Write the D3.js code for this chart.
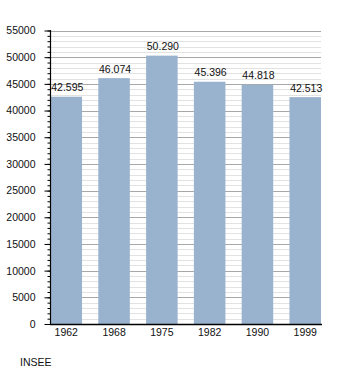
<!DOCTYPE html>
<html><head><meta charset="utf-8">
<script src="https://cdn.jsdelivr.net/npm/d3@7"></script>
<style>body{margin:0;background:#fff}svg{display:block;font-family:"Liberation Sans",Arial,sans-serif}</style>
</head><body><svg id="c" width="350" height="373"></svg>
<script>
const years = ["1962","1968","1975","1982","1990","1999"];
const population = [42595,46074,50290,45396,44818,42513];
const valueLabels = ["42.595","46.074","50.290","45.396","44.818","42.513"];
const yTicks = [0,5000,10000,15000,20000,25000,30000,35000,40000,45000,50000,55000];
const source = "INSEE";

const svg = d3.select("#c");
const x = d3.scaleBand().domain(years).range([50.5,321]).paddingInner(0.34).paddingOuter(0);
const y = d3.scaleLinear().domain([0,55000]).range([324,30.5]);
const minor = d3.range(0,55001,1000);
const FS = 10.5;

svg.append("g").selectAll("line").data(minor.filter(v=>v%5000!==0)).join("line")
  .attr("x1",50).attr("x2",321).attr("y1",d=>Math.round(y(d))+0.5).attr("y2",d=>Math.round(y(d))+0.5)
  .attr("stroke","#e2e2e2").attr("stroke-width",1);
svg.append("g").selectAll("line").data(yTicks.filter(v=>v>0)).join("line")
  .attr("x1",50).attr("x2",321).attr("y1",d=>Math.round(y(d))+0.5).attr("y2",d=>Math.round(y(d))+0.5)
  .attr("stroke","#a8a8a8").attr("stroke-width",1);

svg.append("g").selectAll("rect").data(population).join("rect")
  .attr("x",(d,i)=>x(years[i])).attr("width",x.bandwidth())
  .attr("y",d=>y(d)).attr("height",d=>y(0)-y(d)).attr("fill","#99b3cf");

svg.append("g").selectAll("text").data(population).join("text")
  .attr("x",(d,i)=>x(years[i])+x.bandwidth()/2+1).attr("y",d=>y(d)-5.5)
  .attr("text-anchor","middle").attr("font-size",FS).attr("fill","#111")
  .text((d,i)=>valueLabels[i]);

// y axis
const ya = svg.append("g").attr("transform","translate(50.5,0)");
ya.call(d3.axisLeft(y).tickValues(minor).tickSize(3).tickFormat(""));
ya.select(".domain").remove();
ya.append("g").call(d3.axisLeft(y).tickValues(yTicks).tickSize(6).tickPadding(9).tickFormat(d3.format("d")))
  .call(g=>g.select(".domain").remove())
  .call(g=>g.selectAll("text").attr("font-size",FS).attr("fill","#111").attr("font-family","Liberation Sans, Arial, sans-serif"));
ya.selectAll("line").attr("stroke","#000");
svg.append("line").attr("x1",50.5).attr("x2",50.5).attr("y1",30).attr("y2",324.5).attr("stroke","#000").attr("stroke-width",1.2);

// x axis
const xa = svg.append("g").attr("transform","translate(0,324.5)");
xa.call(d3.axisBottom(x).tickSize(0).tickPadding(4));
xa.select(".domain").remove();
xa.selectAll("text").attr("font-size",FS).attr("fill","#111").attr("font-family","Liberation Sans, Arial, sans-serif");
svg.append("line").attr("x1",50).attr("x2",322).attr("y1",324.5).attr("y2",324.5).attr("stroke","#000").attr("stroke-width",1.5);

svg.append("text").attr("x",20).attr("y",366).attr("font-size",FS).attr("fill","#111").text(source);
</script></body></html>
